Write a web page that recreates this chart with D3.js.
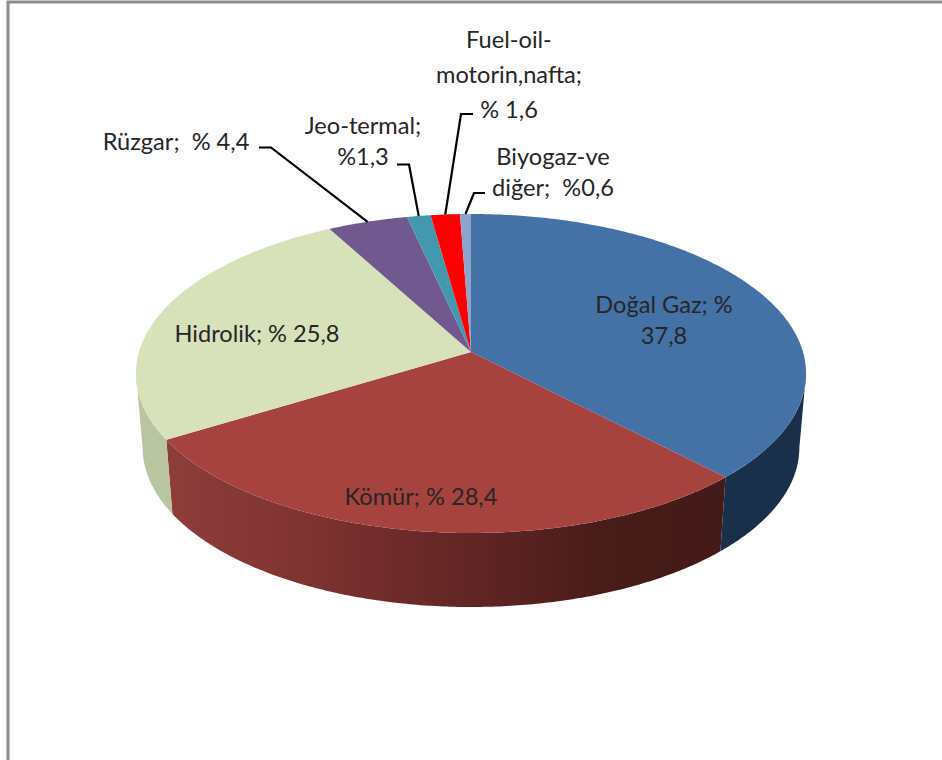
<!DOCTYPE html>
<html><head><meta charset="utf-8">
<script src="https://cdn.jsdelivr.net/npm/d3@7"></script>
<style>html,body{margin:0;padding:0;background:#fff}svg{display:block}text{font-family:Lato,"Open Sans",sans-serif;font-size:23.6px;fill:#262626}</style>
</head><body><svg id="c" width="942" height="760"></svg>
<script>
const categories = ["Doğal Gaz","Kömür","Hidrolik","Rüzgar","Jeo-termal","Fuel-oil-motorin,nafta","Biyogaz-ve diğer"];
const values = [37.8,28.4,25.8,4.4,1.3,1.6,0.6];
const labelLines = [["Doğal Gaz; %","37,8"],["Kömür; % 28,4"],["Hidrolik; % 25,8"],["Rüzgar;  % 4,4"],["Jeo-termal;","%1,3"],["Fuel-oil-","motorin,nafta;","% 1,6"],["Biyogaz-ve","diğer;  %0,6"]];
const topColors = ["#4471a6","#a6433f","#d7e2bb","#71588f","#4198af","#ff0000","#8ea5cb"];

const W=942,H=760;
const svg=d3.select("#c");
// chart frame (top and left edges)
svg.append("path").attr("d",`M8,${H}V2H${W}`).attr("fill","none").attr("stroke","#8c8c8c").attr("stroke-width",3);

// perspective projection of the unit disc
const cx=471,cy=352,k=0.1348,ax=332,ay=156.6,wallScale=0.98,wallDy=74;
const proj=(a)=>{const u=Math.sin(a),v=-Math.cos(a),d=1-k*v;return [cx+ax*u/d,cy+ay*v/d];};
const wall=(p)=>[cx+(p[0]-cx)*wallScale,p[1]+wallDy];
const arcPts=(a0,a1)=>{const n=Math.max(2,Math.ceil((a1-a0)/0.01));return d3.range(n+1).map(i=>proj(a0+(a1-a0)*i/n));};
const line=d3.line();

const pie=d3.pie().sort(null).value(d=>d);
const arcs=pie(values);

const defs=svg.append("defs");
const g=defs.append("linearGradient").attr("id","redWall").attr("gradientUnits","userSpaceOnUse")
  .attr("x1",166).attr("x2",726).attr("y1",0).attr("y2",0);
[[0,"#8e3d3a"],[0.25,"#7f3331"],[0.45,"#6b2929"],[0.62,"#5a2221"],[0.78,"#481c19"],[1,"#421a17"]]
  .forEach(s=>g.append("stop").attr("offset",s[0]).attr("stop-color",s[1]));
const wallFills=["#1a2f49","url(#redWall)","#b9c4a1"];

// the wall is visible only between the two silhouette tangents of the rim
const tangentRight=Math.acos(-k), tangentLeft=2*Math.PI-tangentRight;
const walls=arcs.slice(0,3).map((d,i)=>({i,a0:Math.max(d.startAngle,tangentRight),a1:Math.min(d.endAngle,tangentLeft)}));
svg.append("g").selectAll("path").data(walls).join("path")
  .attr("d",o=>{const t=arcPts(o.a0,o.a1);return line(t.concat(t.map(wall).reverse()))+"Z";})
  .attr("fill",o=>wallFills[o.i]);

svg.append("g").selectAll("path").data(arcs).join("path")
  .attr("d",d=>line([[cx,cy]].concat(arcPts(d.startAngle,d.endAngle)))+"Z")
  .attr("fill",(d,i)=>topColors[i]);

// label layout: anchor x, first baseline y, line height, and elbow of the leader line
const layout=[
 {x:664,y:313,lh:31},
 {x:421,y:505,lh:31},
 {x:257,y:342,lh:31},
 {x:176,y:150,lh:31,lead:[[259,147.5],[271,147.5]]},
 {x:363,y:134,lh:31,lead:[[397,164.5],[409,164.5]]},
 {x:509,y:48,lh:35,lead:[[473,114],[461,114]]},
 {x:553,y:165,lh:31,lead:[[485,193],[474,193]]}
];
const gl=svg.append("g");
arcs.forEach((d,i)=>{
  const L=layout[i];
  if(L.lead){
    const end=proj((d.startAngle+d.endAngle)/2);
    gl.append("path").attr("d",line(L.lead.concat([end]))).attr("fill","none").attr("stroke","#000").attr("stroke-width",2.2);
  }
  const t=gl.append("text").attr("text-anchor","middle");
  labelLines[i].forEach((s,j)=>t.append("tspan").attr("x",L.x).attr("y",L.y+j*L.lh).style("white-space","pre").text(s));
});
</script></body></html>
